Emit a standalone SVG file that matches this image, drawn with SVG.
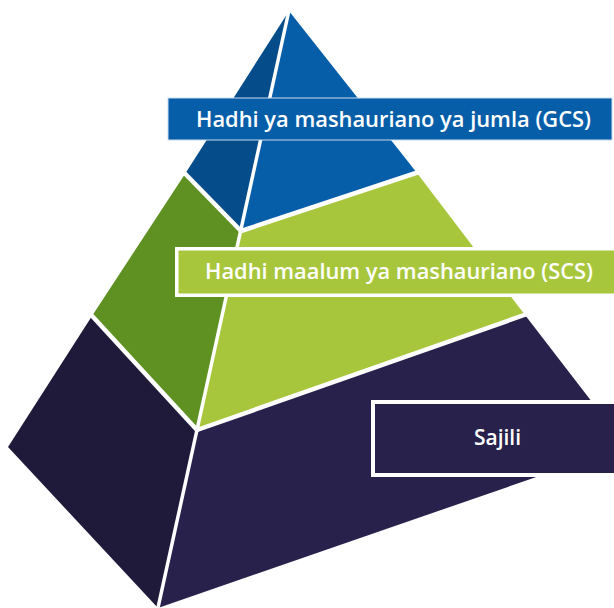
<svg xmlns="http://www.w3.org/2000/svg" width="614" height="608" viewBox="0 0 614 608">
  <style>
    .sep { stroke: #ffffff; stroke-width: 4.5; stroke-linecap: butt; fill: none; }
    .edge { stroke: #ffffff; stroke-width: 3.5; fill: none; }
    .lbl { font-family: "Open Sans", "Liberation Sans", sans-serif; font-weight: 600; font-size: 21px; fill: #ffffff; text-anchor: middle; }
  </style>
  <rect x="0" y="0" width="614" height="608" fill="#ffffff"/>

  <g id="tier-registry">
    <polygon points="92,316 8,447 158,608 197,430" fill="#1f1a3a"/>
    <polygon points="197,430 158,608 626,446 525,315" fill="#27214b"/>
  </g>
  <g id="tier-special">
    <polygon points="185,174 92,316 197,430 241,231" fill="#5e9022"/>
    <polygon points="241,231 197,430 525,315 417,173" fill="#a8c63c"/>
  </g>
  <g id="tier-general">
    <polygon points="289,11 185,174 241,231" fill="#044d8a"/>
    <polygon points="289,11 241,231 417,173" fill="#075ea8"/>
  </g>

  <g id="connectors">
    <line class="edge" x1="289.5" y1="8" x2="157.5" y2="610"/>
    <line class="sep" x1="182" y1="170.5" x2="241" y2="231"/>
    <line class="sep" x1="241" y1="231" x2="422" y2="171"/>
    <line class="sep" x1="88" y1="311.5" x2="197" y2="430"/>
    <line class="sep" x1="197" y1="430" x2="530" y2="313"/>
  </g>

  <g id="label-gcs">
    <rect x="168" y="98" width="444" height="42" fill="#075ea8" stroke="#c9d9ec" stroke-width="1"/>
    <text class="lbl" x="393.5" y="127" textLength="395" lengthAdjust="spacingAndGlyphs">Hadhi ya mashauriano ya jumla (GCS)</text>
  </g>
  <g id="label-scs">
    <rect x="176.75" y="248.75" width="450" height="46.5" fill="#a8c63c" stroke="#ffffff" stroke-width="3.5"/>
    <text class="lbl" x="399" y="278.5" textLength="388" lengthAdjust="spacingAndGlyphs">Hadhi maalum ya mashauriano (SCS)</text>
  </g>
  <g id="label-sajili">
    <rect x="373" y="402" width="250" height="73" fill="#27214b" stroke="#ffffff" stroke-width="4"/>
    <text class="lbl" x="497.5" y="444.5">Sajili</text>
  </g>
</svg>
